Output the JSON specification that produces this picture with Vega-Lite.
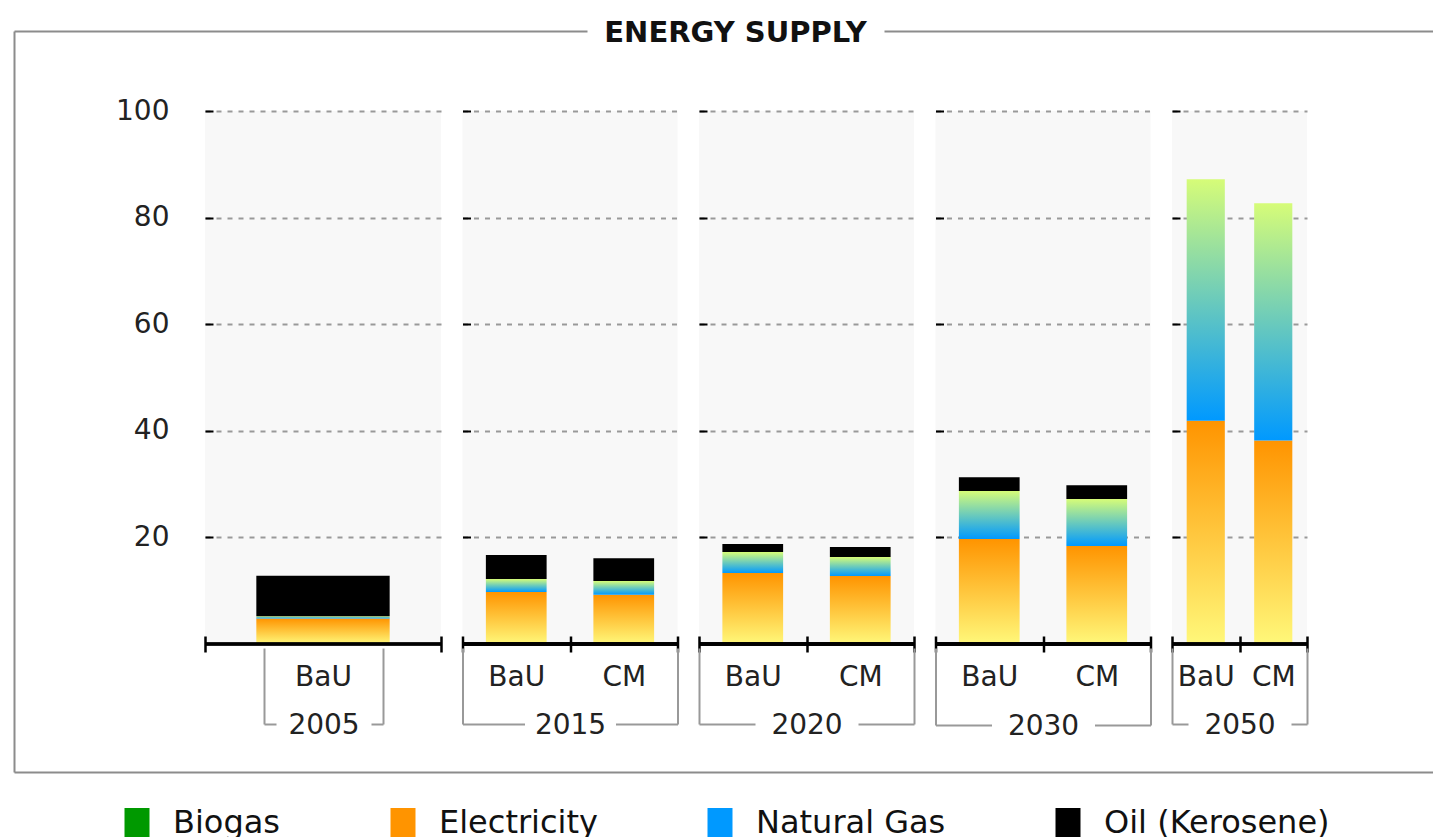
{
  "$schema": "https://vega.github.io/schema/vega-lite/v6.json",
  "background": "white",
  "padding": {"left": 14, "top": 18, "right": 0, "bottom": 0},
  "bounds": "flush",
  "spacing": 21.5,
  "config": {
    "font": "DejaVu Sans",
    "view": {"fill": "#f8f8f8", "stroke": null},
    "axis": {"labelColor": "#222", "titleColor": "#111"},
    "legend": {"orient": "none", "legendX": -84, "legendY": 696, "direction": "horizontal", "title": null, "labelFontSize": 32, "labelLimit": 500, "labelColor": "#111", "symbolType": "M-1,-1.2H1V1.2H-1Z", "symbolSize": 625, "symbolStrokeWidth": 0, "columnPadding": 106, "labelOffset": 20}
  },
  "data": {"values": [
    {"year": "2005", "scenario": "BaU", "source": "Electricity", "value": 4.8},
    {"year": "2005", "scenario": "BaU", "source": "Natural Gas", "value": 0.4},
    {"year": "2005", "scenario": "BaU", "source": "Oil (Kerosene)", "value": 7.6},
    {"year": "2015", "scenario": "BaU", "source": "Electricity", "value": 9.75},
    {"year": "2015", "scenario": "BaU", "source": "Natural Gas", "value": 2.45},
    {"year": "2015", "scenario": "BaU", "source": "Oil (Kerosene)", "value": 4.5},
    {"year": "2015", "scenario": "CM", "source": "Electricity", "value": 9.25},
    {"year": "2015", "scenario": "CM", "source": "Natural Gas", "value": 2.55},
    {"year": "2015", "scenario": "CM", "source": "Oil (Kerosene)", "value": 4.3},
    {"year": "2020", "scenario": "BaU", "source": "Electricity", "value": 13.3},
    {"year": "2020", "scenario": "BaU", "source": "Natural Gas", "value": 3.95},
    {"year": "2020", "scenario": "BaU", "source": "Oil (Kerosene)", "value": 1.5},
    {"year": "2020", "scenario": "CM", "source": "Electricity", "value": 12.75},
    {"year": "2020", "scenario": "CM", "source": "Natural Gas", "value": 3.55},
    {"year": "2020", "scenario": "CM", "source": "Oil (Kerosene)", "value": 1.9},
    {"year": "2030", "scenario": "BaU", "source": "Electricity", "value": 19.7},
    {"year": "2030", "scenario": "BaU", "source": "Natural Gas", "value": 9.0},
    {"year": "2030", "scenario": "BaU", "source": "Oil (Kerosene)", "value": 2.6},
    {"year": "2030", "scenario": "CM", "source": "Electricity", "value": 18.4},
    {"year": "2030", "scenario": "CM", "source": "Natural Gas", "value": 8.8},
    {"year": "2030", "scenario": "CM", "source": "Oil (Kerosene)", "value": 2.6},
    {"year": "2050", "scenario": "BaU", "source": "Electricity", "value": 41.9},
    {"year": "2050", "scenario": "BaU", "source": "Natural Gas", "value": 45.3},
    {"year": "2050", "scenario": "CM", "source": "Electricity", "value": 38.2},
    {"year": "2050", "scenario": "CM", "source": "Natural Gas", "value": 44.5}
  ]},
  "resolve": {"scale": {"x": "independent", "y": "independent"}, "axis": {"x": "independent", "y": "independent"}},
  "hconcat": [
    {
      "width": 236, "height": 533,
      "transform": [{"filter": "datum.year == '2005'"}],
      "resolve": {"scale": {"x": "independent", "y": "independent"}, "axis": {"x": "independent", "y": "independent"}},
      "layer": [
        {
          "mark": {"type": "bar", "width": {"band": 0.565}},
          "encoding": {
            "x": {"field": "scenario", "type": "nominal", "scale": {"paddingInner": 0, "paddingOuter": 0},
              "axis": {"title": null, "labelAngle": 0, "labelFontSize": 28, "labelPadding": 11, "offset": -8, "domain": false, "tickColor": "#000", "tickWidth": 2.5, "tickSize": 16, "tickBand": "extent", "grid": false}},
            "y": {"field": "value", "type": "quantitative", "stack": "zero", "scale": {"domain": [0, 100]},
              "axis": {"title": null, "values": [20, 40, 60, 80, 100], "labelFontSize": 28, "labelPadding": 44, "domain": false, "tickColor": "#000", "tickWidth": 2, "tickSize": -8, "grid": true, "gridColor": "#999", "gridDash": [5, 6], "gridWidth": 2}},
            "color": {"field": "source", "type": "nominal",
              "condition": [
                {"test": "datum.source === 'Electricity' || datum.value === 'Electricity'", "value": {"gradient": "linear", "x1": 0, "y1": 1, "x2": 0, "y2": 0, "stops": [{"offset": 0, "color": "#fff87a"}, {"offset": 1, "color": "#ff9400"}]}},
                {"test": "datum.source === 'Natural Gas' || datum.value === 'Natural Gas'", "value": {"gradient": "linear", "x1": 0, "y1": 1, "x2": 0, "y2": 0, "stops": [{"offset": 0, "color": "#0099ff"}, {"offset": 1, "color": "#d6fc78"}]}}
              ],
              "scale": {"domain": ["Biogas", "Electricity", "Natural Gas", "Oil (Kerosene)"], "range": ["#009900", "#ff9400", "#0099ff", "#000000"]}},
            "order": {"field": "source", "type": "ordinal", "sort": "ascending"}
          }
        },
        {
          "mark": {"type": "rule", "color": "#000", "strokeWidth": 3},
          "encoding": {"y": {"datum": 0, "scale": {"domain": [0, 100]}, "axis": null}}
        },
        {
          "mark": {"type": "point", "opacity": 0},
          "encoding": {
            "x": {"field": "year", "type": "nominal", "scale": {"type": "band", "paddingInner": 0, "paddingOuter": 0, "range": [59, 178]},
              "axis": {"orient": "bottom", "offset": 80, "title": null, "labelAngle": 0, "domainColor": "#999", "domainWidth": 2, "domainDash": [12, 95], "tickColor": "#999", "tickWidth": 2, "tickSize": -76, "tickBand": "extent", "labelFontSize": 28, "labelBaseline": "middle", "labelPadding": 77, "grid": false}}
          }
        },
        {
          "mark": {"type": "point", "opacity": 0},
          "encoding": {
            "y": {"field": "value", "type": "quantitative", "scale": {"domain": [0, 100], "range": [661, -80]},
              "axis": {"orient": "left", "offset": 191, "title": null, "labels": false, "ticks": false, "grid": false, "domainColor": "#8c8c8c", "domainWidth": 2}}
          }
        },
        {
          "mark": {"type": "point", "opacity": 0},
          "encoding": {
            "x": {"field": "value", "type": "quantitative", "scale": {"domain": [0, 100], "range": [-191, 1251]},
              "axis": {"orient": "top", "offset": 80, "title": "ENERGY SUPPLY", "titleFontSize": 29, "titleFontWeight": "bold", "titleBaseline": "middle", "titlePadding": -1, "labels": false, "ticks": false, "grid": false, "domainColor": "#8c8c8c", "domainWidth": 2, "domainDash": [573, 297, 2000]}}
          }
        },
        {
          "mark": {"type": "point", "opacity": 0},
          "encoding": {
            "x": {"field": "value", "type": "quantitative", "scale": {"domain": [0, 100], "range": [-191, 1251]},
              "axis": {"orient": "bottom", "offset": 128, "title": null, "labels": false, "ticks": false, "grid": false, "domainColor": "#8c8c8c", "domainWidth": 2}}
          }
        }
      ]
    },
    {
      "width": 215, "height": 533,
      "transform": [{"filter": "datum.year == '2015'"}],
      "resolve": {"scale": {"x": "independent"}, "axis": {"x": "independent"}},
      "layer": [
        {
          "mark": {"type": "bar", "width": {"band": 0.565}},
          "encoding": {
            "x": {"field": "scenario", "type": "nominal", "scale": {"paddingInner": 0, "paddingOuter": 0},
              "axis": {"title": null, "labelAngle": 0, "labelFontSize": 28, "labelPadding": 11, "offset": -8, "domain": false, "tickColor": "#000", "tickWidth": 2.5, "tickSize": 16, "tickBand": "extent", "grid": false}},
            "y": {"field": "value", "type": "quantitative", "stack": "zero", "scale": {"domain": [0, 100]},
              "axis": {"title": null, "values": [20, 40, 60, 80, 100], "labels": false, "domain": false, "tickColor": "#000", "tickWidth": 2, "tickSize": -8, "grid": true, "gridColor": "#999", "gridDash": [5, 6], "gridWidth": 2}},
            "color": {"field": "source", "type": "nominal",
              "condition": [
                {"test": "datum.source === 'Electricity' || datum.value === 'Electricity'", "value": {"gradient": "linear", "x1": 0, "y1": 1, "x2": 0, "y2": 0, "stops": [{"offset": 0, "color": "#fff87a"}, {"offset": 1, "color": "#ff9400"}]}},
                {"test": "datum.source === 'Natural Gas' || datum.value === 'Natural Gas'", "value": {"gradient": "linear", "x1": 0, "y1": 1, "x2": 0, "y2": 0, "stops": [{"offset": 0, "color": "#0099ff"}, {"offset": 1, "color": "#d6fc78"}]}}
              ]},
            "order": {"field": "source", "type": "ordinal", "sort": "ascending"}
          }
        },
        {
          "mark": {"type": "rule", "color": "#000", "strokeWidth": 3},
          "encoding": {"y": {"datum": 0}}
        },
        {
          "mark": {"type": "point", "opacity": 0},
          "encoding": {
            "x": {"field": "year", "type": "nominal", "scale": {"type": "band", "paddingInner": 0, "paddingOuter": 0},
              "axis": {"orient": "bottom", "offset": 80, "title": null, "labelAngle": 0, "domainColor": "#999", "domainWidth": 2, "domainDash": [62, 91], "tickColor": "#999", "tickWidth": 2, "tickSize": -76, "tickBand": "extent", "labelFontSize": 28, "labelBaseline": "middle", "labelPadding": 77, "grid": false}}
          }
        }
      ]
    },
    {
      "width": 215, "height": 533,
      "transform": [{"filter": "datum.year == '2020'"}],
      "resolve": {"scale": {"x": "independent"}, "axis": {"x": "independent"}},
      "layer": [
        {
          "mark": {"type": "bar", "width": {"band": 0.565}},
          "encoding": {
            "x": {"field": "scenario", "type": "nominal", "scale": {"paddingInner": 0, "paddingOuter": 0},
              "axis": {"title": null, "labelAngle": 0, "labelFontSize": 28, "labelPadding": 11, "offset": -8, "domain": false, "tickColor": "#000", "tickWidth": 2.5, "tickSize": 16, "tickBand": "extent", "grid": false}},
            "y": {"field": "value", "type": "quantitative", "stack": "zero", "scale": {"domain": [0, 100]},
              "axis": {"title": null, "values": [20, 40, 60, 80, 100], "labels": false, "domain": false, "tickColor": "#000", "tickWidth": 2, "tickSize": -8, "grid": true, "gridColor": "#999", "gridDash": [5, 6], "gridWidth": 2}},
            "color": {"field": "source", "type": "nominal",
              "condition": [
                {"test": "datum.source === 'Electricity' || datum.value === 'Electricity'", "value": {"gradient": "linear", "x1": 0, "y1": 1, "x2": 0, "y2": 0, "stops": [{"offset": 0, "color": "#fff87a"}, {"offset": 1, "color": "#ff9400"}]}},
                {"test": "datum.source === 'Natural Gas' || datum.value === 'Natural Gas'", "value": {"gradient": "linear", "x1": 0, "y1": 1, "x2": 0, "y2": 0, "stops": [{"offset": 0, "color": "#0099ff"}, {"offset": 1, "color": "#d6fc78"}]}}
              ]},
            "order": {"field": "source", "type": "ordinal", "sort": "ascending"}
          }
        },
        {
          "mark": {"type": "rule", "color": "#000", "strokeWidth": 3},
          "encoding": {"y": {"datum": 0}}
        },
        {
          "mark": {"type": "point", "opacity": 0},
          "encoding": {
            "x": {"field": "year", "type": "nominal", "scale": {"type": "band", "paddingInner": 0, "paddingOuter": 0},
              "axis": {"orient": "bottom", "offset": 80, "title": null, "labelAngle": 0, "domainColor": "#999", "domainWidth": 2, "domainDash": [56, 103], "tickColor": "#999", "tickWidth": 2, "tickSize": -76, "tickBand": "extent", "labelFontSize": 28, "labelBaseline": "middle", "labelPadding": 77, "grid": false}}
          }
        }
      ]
    },
    {
      "width": 215, "height": 533,
      "transform": [{"filter": "datum.year == '2030'"}],
      "resolve": {"scale": {"x": "independent"}, "axis": {"x": "independent"}},
      "layer": [
        {
          "mark": {"type": "bar", "width": {"band": 0.565}},
          "encoding": {
            "x": {"field": "scenario", "type": "nominal", "scale": {"paddingInner": 0, "paddingOuter": 0},
              "axis": {"title": null, "labelAngle": 0, "labelFontSize": 28, "labelPadding": 11, "offset": -8, "domain": false, "tickColor": "#000", "tickWidth": 2.5, "tickSize": 16, "tickBand": "extent", "grid": false}},
            "y": {"field": "value", "type": "quantitative", "stack": "zero", "scale": {"domain": [0, 100]},
              "axis": {"title": null, "values": [20, 40, 60, 80, 100], "labels": false, "domain": false, "tickColor": "#000", "tickWidth": 2, "tickSize": -8, "grid": true, "gridColor": "#999", "gridDash": [5, 6], "gridWidth": 2}},
            "color": {"field": "source", "type": "nominal",
              "condition": [
                {"test": "datum.source === 'Electricity' || datum.value === 'Electricity'", "value": {"gradient": "linear", "x1": 0, "y1": 1, "x2": 0, "y2": 0, "stops": [{"offset": 0, "color": "#fff87a"}, {"offset": 1, "color": "#ff9400"}]}},
                {"test": "datum.source === 'Natural Gas' || datum.value === 'Natural Gas'", "value": {"gradient": "linear", "x1": 0, "y1": 1, "x2": 0, "y2": 0, "stops": [{"offset": 0, "color": "#0099ff"}, {"offset": 1, "color": "#d6fc78"}]}}
              ]},
            "order": {"field": "source", "type": "ordinal", "sort": "ascending"}
          }
        },
        {
          "mark": {"type": "rule", "color": "#000", "strokeWidth": 3},
          "encoding": {"y": {"datum": 0}}
        },
        {
          "mark": {"type": "point", "opacity": 0},
          "encoding": {
            "x": {"field": "year", "type": "nominal", "scale": {"type": "band", "paddingInner": 0, "paddingOuter": 0},
              "axis": {"orient": "bottom", "offset": 81, "title": null, "labelAngle": 0, "domainColor": "#999", "domainWidth": 2, "domainDash": [56, 103], "tickColor": "#999", "tickWidth": 2, "tickSize": -77, "tickBand": "extent", "labelFontSize": 28, "labelBaseline": "middle", "labelPadding": 78, "grid": false}}
          }
        }
      ]
    },
    {
      "width": 135, "height": 533,
      "transform": [{"filter": "datum.year == '2050'"}],
      "resolve": {"scale": {"x": "independent"}, "axis": {"x": "independent"}},
      "layer": [
        {
          "mark": {"type": "bar", "width": {"band": 0.565}},
          "encoding": {
            "x": {"field": "scenario", "type": "nominal", "scale": {"paddingInner": 0, "paddingOuter": 0},
              "axis": {"title": null, "labelAngle": 0, "labelFontSize": 28, "labelPadding": 11, "offset": -8, "domain": false, "tickColor": "#000", "tickWidth": 2.5, "tickSize": 16, "tickBand": "extent", "grid": false}},
            "y": {"field": "value", "type": "quantitative", "stack": "zero", "scale": {"domain": [0, 100]},
              "axis": {"title": null, "values": [20, 40, 60, 80, 100], "labels": false, "domain": false, "tickColor": "#000", "tickWidth": 2, "tickSize": -8, "grid": true, "gridColor": "#999", "gridDash": [5, 6], "gridWidth": 2}},
            "color": {"field": "source", "type": "nominal",
              "condition": [
                {"test": "datum.source === 'Electricity' || datum.value === 'Electricity'", "value": {"gradient": "linear", "x1": 0, "y1": 1, "x2": 0, "y2": 0, "stops": [{"offset": 0, "color": "#fff87a"}, {"offset": 1, "color": "#ff9400"}]}},
                {"test": "datum.source === 'Natural Gas' || datum.value === 'Natural Gas'", "value": {"gradient": "linear", "x1": 0, "y1": 1, "x2": 0, "y2": 0, "stops": [{"offset": 0, "color": "#0099ff"}, {"offset": 1, "color": "#d6fc78"}]}}
              ]},
            "order": {"field": "source", "type": "ordinal", "sort": "ascending"}
          }
        },
        {
          "mark": {"type": "rule", "color": "#000", "strokeWidth": 3},
          "encoding": {"y": {"datum": 0}}
        },
        {
          "mark": {"type": "point", "opacity": 0},
          "encoding": {
            "x": {"field": "year", "type": "nominal", "scale": {"type": "band", "paddingInner": 0, "paddingOuter": 0},
              "axis": {"orient": "bottom", "offset": 80, "title": null, "labelAngle": 0, "domainColor": "#999", "domainWidth": 2, "domainDash": [16, 103], "tickColor": "#999", "tickWidth": 2, "tickSize": -76, "tickBand": "extent", "labelFontSize": 28, "labelBaseline": "middle", "labelPadding": 77, "grid": false}}
          }
        }
      ]
    }
  ]
}
